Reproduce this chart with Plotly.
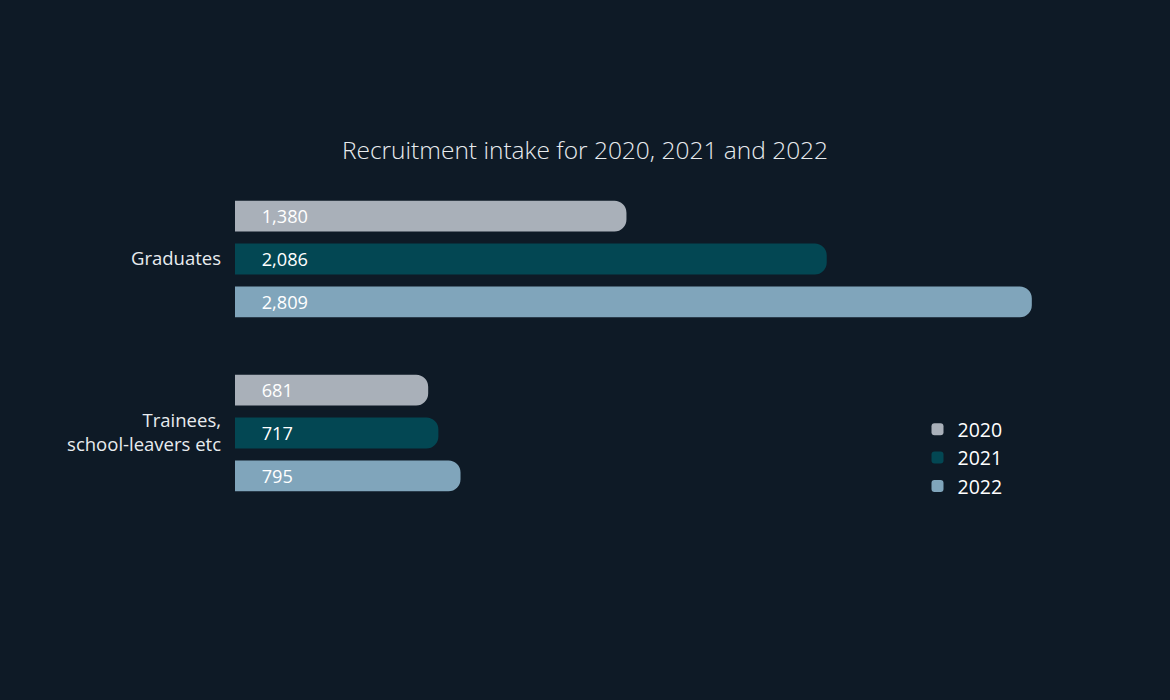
import plotly.graph_objects as go

categories = ["Graduates", "Trainees,<br>school-leavers etc"]
years = ["2020", "2021", "2022"]
values_2020 = [1380, 681]
values_2021 = [2086, 717]
values_2022 = [2809, 795]
colors = ["#a9b0b9", "#034753", "#80a5bb"]

fig = go.Figure()
for name, vals, col in zip(years, [values_2020, values_2021, values_2022], colors):
    fig.add_trace(go.Bar(
        y=categories, x=vals, name=name, orientation="h",
        marker=dict(color=col, line=dict(width=0), cornerradius=12),
        texttemplate="     %{x:,}", textposition="inside", insidetextanchor="start",
        textfont=dict(color="white", size=19, family="Open Sans"),
        hoverinfo="skip",
    ))

fig.update_layout(
    width=1170, height=700,
    paper_bgcolor="#0e1a26", plot_bgcolor="#0e1a26",
    margin=dict(l=235, r=84, t=172, b=180),
    barmode="group", bargap=0.26, bargroupgap=0.28,
    font=dict(family="Open Sans", color="#e8ecef"),
    title=dict(text="Recruitment intake for 2020, 2021 and 2022", x=0.5, xanchor="center",
               y=1 - 150 / 700, yanchor="middle",
               font=dict(size=24.5, color="#e8ecef", family="Open Sans", weight=300)),
    xaxis=dict(range=[0, 3000], visible=False, fixedrange=True),
    yaxis=dict(autorange="reversed", showgrid=False, zeroline=False, showline=False,
               tickfont=dict(size=18.5, color="#e8ecef"), ticklabelstandoff=13, fixedrange=True),
    legend=dict(x=0.802, y=0.316, xanchor="left", yanchor="top",
                font=dict(size=19.5, color="white"), bgcolor="rgba(0,0,0,0)",
                itemsizing="constant", itemwidth=30),
    showlegend=True,
)

fig.write_html("out.html", config={"displayModeBar": False},
               post_script="document.body.style.margin='0';document.body.style.background='#0e1a26';")
